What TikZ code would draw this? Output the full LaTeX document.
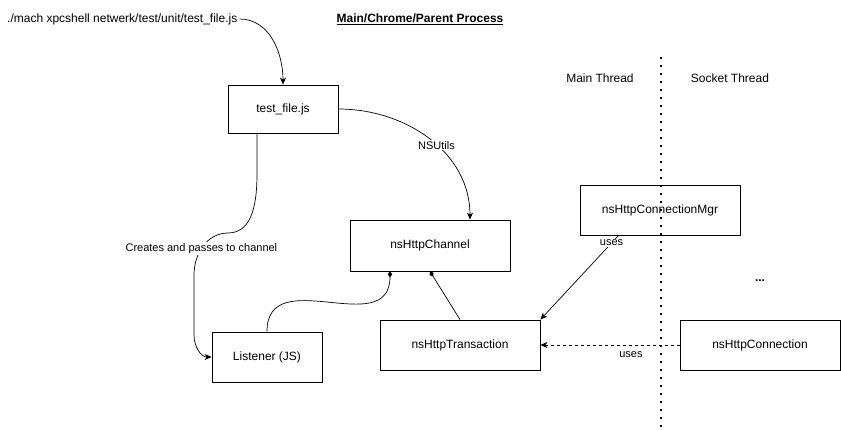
\documentclass[tikz,border=0pt]{standalone}
\usepackage{fontspec}
\setmainfont{Liberation Sans}
\usetikzlibrary{arrows.meta,calc}
\begin{document}
\begin{tikzpicture}[x=1pt,y=-1pt,
	hop/.style={draw,line width=0.8pt,minimum width=160pt,minimum height=50pt,inner sep=0pt,font=\fontsize{12}{14}\selectfont},
	chu/.style={font=\fontsize{12}{14}\selectfont,inner sep=2pt},
	nhan/.style={font=\fontsize{11}{13}\selectfont,fill=white,inner sep=1pt},
	noi/.style={line width=0.7pt,-{Stealth[length=7pt,width=6pt,inset=2pt]}},
	goc/.style={line width=0.7pt,-{Diamond[length=6pt,width=4.5pt]}}]
	\useasboundingbox (0,0) rectangle (841,429);
	% tieu de
	\node[chu,anchor=west] (lenh) at (5,19) {./mach xpcshell netwerk/test/unit/test\_file.js};
	\node[chu] (tieude) at (420,19) {\underline{\textbf{Main/Chrome/Parent Process}}};
	\node[chu] (main) at (600,78) {Main Thread};
	\node[chu] (socket) at (730,78) {Socket Thread};
	% duong chia luong
	\draw[line width=1.6pt,dash pattern=on 1.6pt off 6.4pt] (661,57) -- (661,428);
	% cac khoi
	\node[hop,minimum width=110pt,minimum height=48pt] (tf) at (283,109) {test\_file.js};
	\node[hop,minimum height=51pt] (chan) at (430,245.5) {nsHttpChannel};
	\node[hop,minimum width=110pt] (lis) at (267,357) {Listener (JS)};
	\node[hop] (trans) at (460,345) {nsHttpTransaction};
	\node[hop] (mgr) at (660,210) {nsHttpConnectionMgr};
	\node[hop] (conn) at (760,345) {nsHttpConnection};
	\node[chu] (ba) at (760,281) {\textbf{...}};
	% cac mui ten
	\draw[noi] (lenh.east) to[out=0,in=90] (tf.north);
	\draw[noi] (tf.east) to[out=0,in=90] node[nhan,pos=0.55] {NSUtils} ($(chan.north)+(40,0)$);
	\draw[noi] ($(tf.south)+(-26,0)$) -- ++(0,40) to[out=-90,in=0] (228,233)
		to[out=180,in=90] node[nhan,pos=0.55] {Creates and passes to channel} (194,275)
		-- (194,335) to[out=-90,in=180] (lis.west);
	\draw[goc] (lis.north) to[out=90,in=-90,looseness=1.3] ($(chan.south)+(-40,0)$);
	\draw[goc] (trans.north) -- (chan.south);
	\draw[noi] ($(mgr.south west)+(39,0)$) -- node[nhan,pos=0.09] {uses} (trans.north east);
	\draw[noi,dash pattern=on 3pt off 3pt] (conn.west) -- node[nhan,below=5pt,pos=0.35,fill=none] {uses} (trans.east);
\end{tikzpicture}
\end{document}
